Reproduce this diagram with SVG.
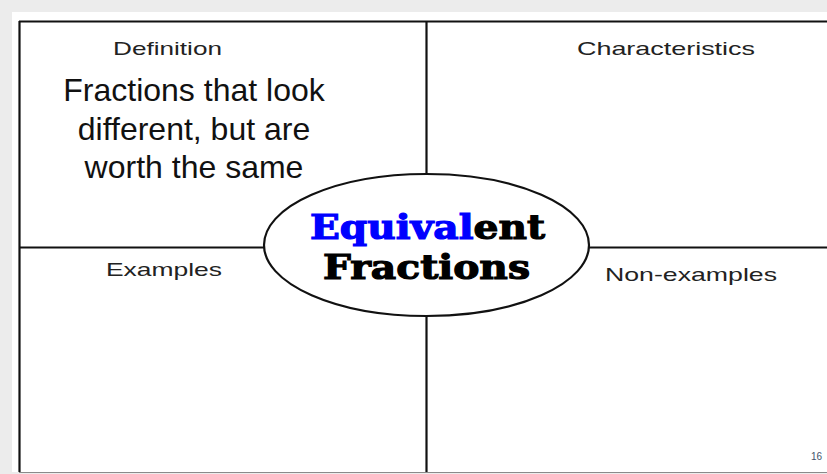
<svg xmlns="http://www.w3.org/2000/svg" width="827" height="474" viewBox="0 0 827 474">
<style>
.frame{stroke:#111;stroke-width:2.2;fill:none}
.lbl{font-family:"Liberation Sans",Arial,sans-serif;font-size:19px;fill:#222}
.body{font-family:"Liberation Sans",Arial,sans-serif;font-size:32px;fill:#111;text-anchor:middle}
.title{font-family:"DejaVu Serif","Liberation Serif",serif;font-weight:bold;font-size:34px;stroke-width:1.2}
</style>
<rect x="0" y="0" width="827" height="474" fill="#ececec"/>
<rect x="12" y="12" width="815" height="460" fill="#ffffff"/>
<g id="connectors">
<line class="frame" x1="19" y1="21.5" x2="827" y2="21.5"/>
<line class="frame" x1="19.5" y1="21" x2="19.5" y2="472"/>
<line class="frame" x1="426.5" y1="21" x2="426.5" y2="174"/>
<line class="frame" x1="426.5" y1="316" x2="426.5" y2="472"/>
<line class="frame" x1="19" y1="247.5" x2="264" y2="247.5"/>
<line class="frame" x1="589" y1="247.5" x2="827" y2="247.5"/>
<line x1="19" y1="472.5" x2="827" y2="472.5" stroke="#8a8a8a" stroke-width="1.2"/>
</g>
<g id="definition">
<text class="lbl" x="113" y="55" textLength="109" lengthAdjust="spacingAndGlyphs">Definition</text>
<text class="body" x="194" y="101">Fractions that look</text>
<text class="body" x="194" y="140">different, but are</text>
<text class="body" x="194" y="178">worth the same</text>
</g>
<g id="characteristics">
<text class="lbl" x="577" y="55" textLength="178" lengthAdjust="spacingAndGlyphs">Characteristics</text>
</g>
<g id="examples">
<text class="lbl" x="106" y="276" textLength="116" lengthAdjust="spacingAndGlyphs">Examples</text>
</g>
<g id="non-examples">
<text class="lbl" x="605" y="281" textLength="172" lengthAdjust="spacingAndGlyphs">Non-examples</text>
</g>
<g id="center">
<ellipse cx="426.5" cy="245" rx="162.5" ry="71" fill="#fff" stroke="#111" stroke-width="2.2"/>
<text class="title" x="310" y="239" textLength="235" lengthAdjust="spacingAndGlyphs"><tspan fill="#0000ff" stroke="#0000ff">Equival</tspan><tspan fill="#000" stroke="#000">ent</tspan></text>
<text class="title" x="323" y="279" textLength="207" lengthAdjust="spacingAndGlyphs" fill="#000" stroke="#000">Fractions</text>
</g>
<text x="822" y="460" font-family="'Liberation Sans',Arial,sans-serif" font-size="10" fill="#44546a" text-anchor="end">16</text>
</svg>
